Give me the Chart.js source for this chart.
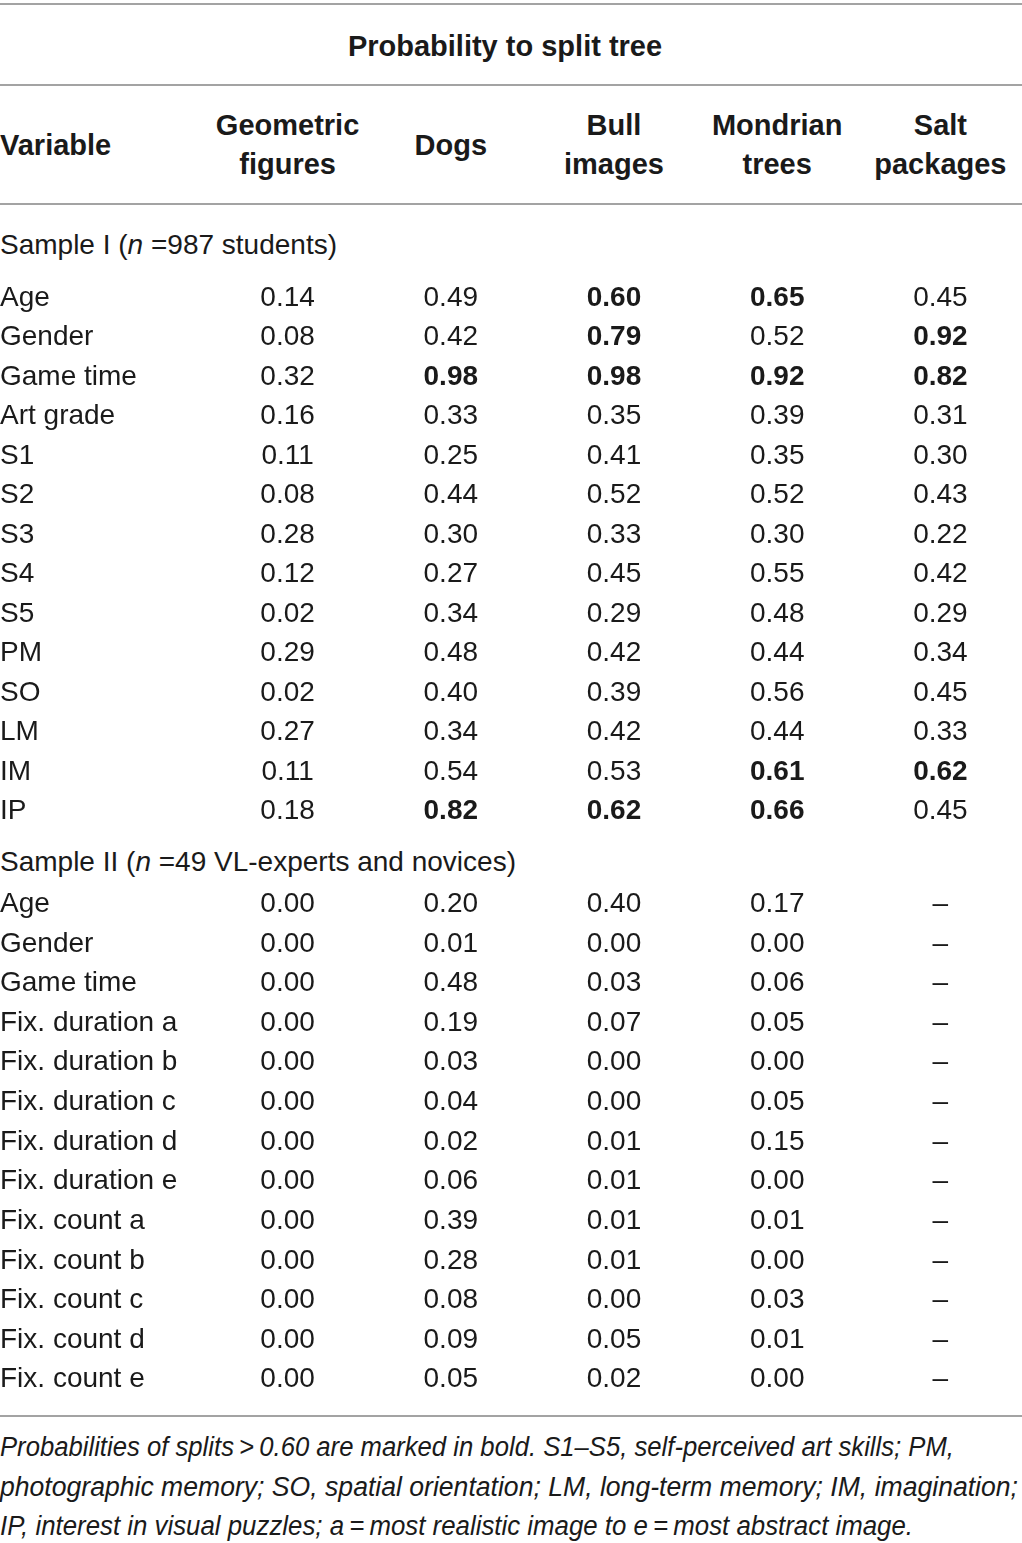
<!DOCTYPE html>
<html>
<head>
<meta charset="utf-8">
<title>Probability to split tree</title>
<script src="https://cdn.jsdelivr.net/npm/chart.js@4.4.0/dist/chart.umd.min.js"></script>
<style>
    body { margin: 0; background: #fff; }
    #page { position: relative; width: 1022px; height: 1543px; overflow: hidden;
            font-family: "Liberation Sans", Arial, sans-serif; color: #1a1a1a; }
    .rule { position: absolute; left: 0; width: 1022px; height: 2px; background: #a3a3a3; }
    .bold { position: absolute; font-weight: bold; font-size: 29px; line-height: 39px; white-space: nowrap; }
    .colhead { text-align: center; width: 220px; }
    .caption { position: absolute; left: 0; font-size: 28px; line-height: 40px; white-space: nowrap; }
    .grid { position: absolute; left: 0; width: 1022px; }
    .fn { position: absolute; left: 0; font-family: "Liberation Sans Narrow", "Liberation Sans", sans-serif;
          font-style: italic; font-size: 27px; line-height: 40px; white-space: nowrap; transform-origin: 0 50%; }
</style>
</head>
<body>
<div id="page">
    <div class="rule" style="top:3px"></div>
    <div class="bold" style="top:27px;left:0;width:1010px;text-align:center">Probability to split tree</div>
    <div class="rule" style="top:84px"></div>
    <div class="bold" style="top:126px;left:0">Variable</div>
    <div id="heads"></div>
    <div class="rule" style="top:203px"></div>

    <div class="caption" style="top:225px">Sample I (<i>n</i> =987 students)</div>
    <div class="grid" id="box1" style="top:278px;height:554px"><canvas id="chart1"></canvas></div>

    <div class="caption" style="top:842px">Sample II (<i>n</i> =49 VL-experts and novices)</div>
    <div class="grid" id="box2" style="top:884px;height:516px"><canvas id="chart2"></canvas></div>

    <div class="rule" style="top:1415px"></div>
    <div class="fn" data-w="954" style="top:1427px">Probabilities of splits&thinsp;&gt;&thinsp;0.60 are marked in bold. S1–S5, self-perceived art skills; PM,</div>
    <div class="fn" data-w="1018" style="top:1467px">photographic memory; SO, spatial orientation; LM, long-term memory; IM, imagination;</div>
    <div class="fn" data-w="913" style="top:1506px">IP, interest in visual puzzles; a&thinsp;=&thinsp;most realistic image to e&thinsp;=&thinsp;most abstract image.</div>
</div>

<script>
// columns of the table
var columns = ['Geometric figures', 'Dogs', 'Bull images', 'Mondrian trees', 'Salt packages'];

// Sample I (n = 987 students)
var rows1 = ['Age', 'Gender', 'Game time', 'Art grade', 'S1', 'S2', 'S3', 'S4', 'S5', 'PM', 'SO', 'LM', 'IM', 'IP'];
var s1Geometric = [0.14, 0.08, 0.32, 0.16, 0.11, 0.08, 0.28, 0.12, 0.02, 0.29, 0.02, 0.27, 0.11, 0.18];
var s1Dogs      = [0.49, 0.42, 0.98, 0.33, 0.25, 0.44, 0.30, 0.27, 0.34, 0.48, 0.40, 0.34, 0.54, 0.82];
var s1Bull      = [0.60, 0.79, 0.98, 0.35, 0.41, 0.52, 0.33, 0.45, 0.29, 0.42, 0.39, 0.42, 0.53, 0.62];
var s1Mondrian  = [0.65, 0.52, 0.92, 0.39, 0.35, 0.52, 0.30, 0.55, 0.48, 0.44, 0.56, 0.44, 0.61, 0.66];
var s1Salt      = [0.45, 0.92, 0.82, 0.31, 0.30, 0.43, 0.22, 0.42, 0.29, 0.34, 0.45, 0.33, 0.62, 0.45];

// Sample II (n = 49 VL-experts and novices), no salt packages
var rows2 = ['Age', 'Gender', 'Game time', 'Fix. duration a', 'Fix. duration b', 'Fix. duration c', 'Fix. duration d',
             'Fix. duration e', 'Fix. count a', 'Fix. count b', 'Fix. count c', 'Fix. count d', 'Fix. count e'];
var s2Geometric = [0.00, 0.00, 0.00, 0.00, 0.00, 0.00, 0.00, 0.00, 0.00, 0.00, 0.00, 0.00, 0.00];
var s2Dogs      = [0.20, 0.01, 0.48, 0.19, 0.03, 0.04, 0.02, 0.06, 0.39, 0.28, 0.08, 0.09, 0.05];
var s2Bull      = [0.40, 0.00, 0.03, 0.07, 0.00, 0.00, 0.01, 0.01, 0.01, 0.01, 0.00, 0.05, 0.02];
var s2Mondrian  = [0.17, 0.00, 0.06, 0.05, 0.00, 0.05, 0.15, 0.00, 0.01, 0.00, 0.03, 0.01, 0.00];
var s2Salt      = [null, null, null, null, null, null, null, null, null, null, null, null, null];

var boldFrom = 0.60;   // splits of 0.60 and up are set in bold
var ink = '#1a1a1a';
var cellFont = '28px "Liberation Sans", Arial, sans-serif';

// writes the value of every cell at its point on the two category scales
var cellText = {
    id: 'cellText',
    afterDatasetsDraw: function(chart) {
        var ctx = chart.ctx;
        ctx.save();
        ctx.fillStyle = ink;
        ctx.textAlign = 'center';
        ctx.textBaseline = 'middle';
        chart.data.datasets.forEach(function(ds, i) {
            chart.getDatasetMeta(i).data.forEach(function(pt, j) {
                var v = ds.data[j].v;
                ctx.font = (v !== null && v >= boldFrom ? 'bold ' : '') + cellFont;
                ctx.fillText(v === null ? '–' : v.toFixed(2), pt.x, pt.y);
            });
        });
        ctx.restore();
    }
};

function tableChart(id, rows, cols) {
    var datasets = cols.map(function(values, c) {
        return {
            data: rows.map(function(r, j) { return { x: columns[c], y: r, v: values[j] }; }),
            pointRadius: 0,
            showLine: false
        };
    });
    return new Chart(document.getElementById(id), {
        type: 'scatter',
        data: { datasets: datasets },
        options: {
            responsive: true,
            maintainAspectRatio: false,
            animation: false,
            events: [],
            layout: { padding: 0 },
            plugins: { legend: { display: false }, tooltip: { enabled: false } },
            scales: {
                x: {
                    type: 'category',
                    labels: columns,
                    offset: true,
                    display: false
                },
                y: {
                    type: 'category',
                    labels: rows,
                    offset: true,
                    grid: { display: false, drawTicks: false },
                    border: { display: false },
                    afterFit: function(scale) { scale.width = 206; },
                    ticks: {
                        autoSkip: false,
                        crossAlign: 'far',
                        padding: 0,
                        color: ink,
                        // tiny line height so the end labels add no padding to the grid
                        font: { family: '"Liberation Sans", Arial, sans-serif', size: 28, lineHeight: '1px' }
                    }
                }
            }
        },
        plugins: [cellText]
    });
}

var chart1 = tableChart('chart1', rows1, [s1Geometric, s1Dogs, s1Bull, s1Mondrian, s1Salt]);
var chart2 = tableChart('chart2', rows2, [s2Geometric, s2Dogs, s2Bull, s2Mondrian, s2Salt]);

// column heads sit over the x scale of the grid
var heads = document.getElementById('heads');
columns.forEach(function(name, i) {
    var cx = chart1.scales.x.getPixelForValue(i);
    var words = name.split(' ');
    var div = document.createElement('div');
    div.className = 'bold colhead';
    div.style.left = (cx - 110) + 'px';
    div.style.top = (words.length > 1 ? 106 : 126) + 'px';
    div.innerHTML = words.join('<br>');
    heads.appendChild(div);
});

// footnote lines are set condensed to the width of the original
document.querySelectorAll('.fn').forEach(function(el) {
    var w = el.getBoundingClientRect().width;
    el.style.transform = 'scaleX(' + (el.dataset.w / w) + ')';
});
</script>
</body>
</html>
